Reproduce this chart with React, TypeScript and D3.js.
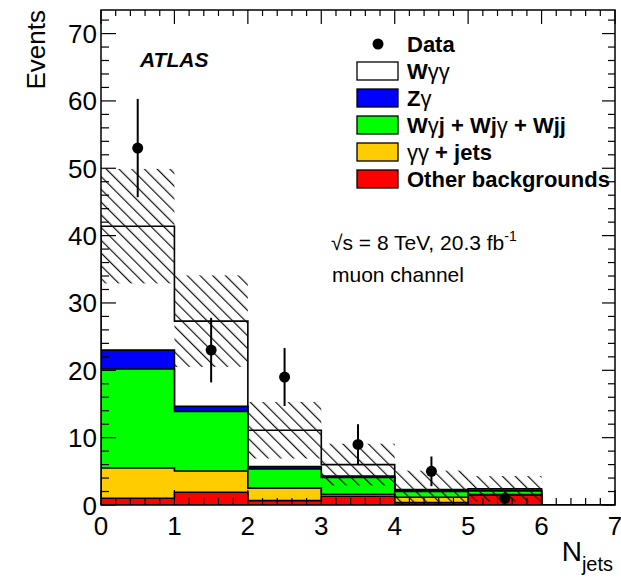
import React from 'react';
import * as d3 from 'd3';

// ---- data ----
const binLow = [0, 1, 2, 3, 4, 5, 6];
const otherBkg = [1.0, 1.9, 0.65, 1.3, 0.35, 1.5, 0];
const ggJets = [4.5, 3.15, 1.85, 0.3, 0.8, 0.05, 0];
const wJets = [14.7, 8.85, 2.85, 2.5, 0.85, 0.55, 0];
const zGamma = [2.8, 0.75, 0.35, 0.2, 0.1, 0.1, 0];
const wGG = [18.4, 12.65, 5.4, 1.7, 0.2, 0.2, 0];
const sysErr = [8.5, 6.8, 4.2, 3.1, 2.8, 1.9, 0];
const dataX = [0.5, 1.5, 2.5, 3.5, 4.5, 5.5];
const dataY = [53, 23, 19, 9, 5, 1];
const dataErr = [7.3, 4.8, 4.3, 3.0, 2.2, 1.0];
const xTickLabels = ['0', '1', '2', '3', '4', '5', '6', '7'];
const yTickLabels = ['0', '10', '20', '30', '40', '50', '60', '70'];

const FONT = "'Liberation Sans', Arial, Helvetica, sans-serif";

const W = 621, H = 578;
const X0 = 101, X1 = 615, Y0 = 505, Y1 = 10;

export default function App() {
  const x = d3.scaleLinear().domain([0, 7]).range([X0, X1]);
  const y = d3.scaleLinear().domain([0, 73.5]).range([Y0, Y1]);

  const layers = [otherBkg, ggJets, wJets, zGamma, wGG];
  const colors = ['#ff0000', '#ffcc00', '#00ff00', '#0000ff', '#ffffff'];
  const cum: number[][] = [];
  layers.forEach((l, k) => {
    cum.push(l.map((v, i) => v + (k > 0 ? cum[k - 1][i] : 0)));
  });
  const total = cum[cum.length - 1];

  const area = d3
    .area<[number, number]>()
    .x((d) => x(d[0]))
    .y0(y(0))
    .y1((d) => y(d[1]))
    .curve(d3.curveStepAfter);

  const pts = (c: number[]): [number, number][] => {
    const p: [number, number][] = binLow.map((b, i) => [b, c[i]]);
    p.push([7, c[c.length - 1]]);
    return p;
  };

  const minorX = d3.range(0, 7.0001, 0.2);
  const minorY = d3.range(0, 73.5, 2);

  const legend = [
    { label: [['W', true], ['γγ', false]], color: '#ffffff' },
    { label: [['Z', true], ['γ', false]], color: '#0000ff' },
    { label: [['W', true], ['γ', false], ['j + Wj', true], ['γ', false], [' + Wjj', true]], color: '#00ff00' },
    { label: [['γγ', false], [' + jets', true]], color: '#ffcc00' },
    { label: [['Other backgrounds', true]], color: '#ff0000' },
  ];

  return (
    <svg width={W} height={H} style={{ position: 'absolute', left: 0, top: 0, background: '#fff' }} fontFamily={FONT}>
      <defs>
        <pattern id="hatch" patternUnits="userSpaceOnUse" width={9} height={9} patternTransform="rotate(-45)">
          <line x1={0.6} y1={0} x2={0.6} y2={9} stroke="#111" strokeWidth={1.2} />
        </pattern>
        <clipPath id="frame">
          <rect x={X0} y={Y1} width={X1 - X0} height={Y0 - Y1} />
        </clipPath>
      </defs>
      <rect x={0} y={0} width={W} height={H} fill="#fff" />

      {/* stack: draw from the top layer down */}
      <g clipPath="url(#frame)">
        {cum
          .map((c, k) => ({ c, k }))
          .reverse()
          .map(({ c, k }) => (
            <path key={k} d={area(pts(c)) || ''} fill={colors[k]} stroke="#000" strokeWidth={1.6} />
          ))}
        {/* systematic band */}
        {binLow.map((b, i) =>
          sysErr[i] > 0 ? (
            <rect
              key={'h' + i}
              x={x(b)}
              width={x(b + 1) - x(b)}
              y={y(total[i] + sysErr[i])}
              height={y(Math.max(0, total[i] - sysErr[i])) - y(total[i] + sysErr[i])}
              fill="url(#hatch)"
            />
          ) : null
        )}
      </g>

      {/* data */}
      {dataX.map((dx, i) => (
        <g key={'d' + i}>
          <line x1={x(dx)} x2={x(dx)} y1={y(dataY[i] + dataErr[i])} y2={y(Math.max(0, dataY[i] - dataErr[i]))} stroke="#000" strokeWidth={2} />
          <circle cx={x(dx)} cy={y(dataY[i])} r={5.5} fill="#000" />
        </g>
      ))}

      {/* frame */}
      <rect x={X0} y={Y1} width={X1 - X0} height={Y0 - Y1} fill="none" stroke="#000" strokeWidth={1.5} />

      {/* x ticks */}
      {minorX.map((t, i) => {
        const major = Math.abs(t - Math.round(t)) < 1e-6;
        return (
          <g key={'xt' + i} stroke="#000" strokeWidth={1.2}>
            <line x1={x(t)} x2={x(t)} y1={Y0} y2={Y0 - (major ? 15 : 7)} />
            <line x1={x(t)} x2={x(t)} y1={Y1} y2={Y1 + (major ? 14 : 6)} />
          </g>
        );
      })}
      {/* y ticks */}
      {minorY.map((t, i) => {
        const major = t % 10 === 0;
        return (
          <g key={'yt' + i} stroke="#000" strokeWidth={1.2}>
            <line x1={X0} x2={X0 + (major ? 15 : 8)} y1={y(t)} y2={y(t)} />
            <line x1={X1} x2={X1 - (major ? 13 : 7)} y1={y(t)} y2={y(t)} />
          </g>
        );
      })}

      {/* tick labels */}
      {xTickLabels.map((l, i) => (
        <text key={'xl' + i} x={x(i)} y={535} fontSize={26} textAnchor="middle" fill="#000">
          {l}
        </text>
      ))}
      {yTickLabels.map((l, i) => (
        <text key={'yl' + i} x={97} y={y(i * 10) + 9.5} fontSize={26} textAnchor="end" fill="#000">
          {l}
        </text>
      ))}

      {/* axis titles */}
      <text transform={`translate(45,10) rotate(-90)`} fontSize={26} textAnchor="end" fill="#000">
        Events
      </text>
      <text x={613} y={561} fontSize={28} textAnchor="end" fill="#000">
        N<tspan fontSize={20} dy={10}>jets</tspan>
      </text>

      {/* ATLAS label */}
      <text x={140} y={67} fontSize={21} fontWeight="bold" fontStyle="italic" fill="#000">
        ATLAS
      </text>

      {/* legend */}
      <circle cx={378} cy={44} r={5.5} fill="#000" />
      <text x={407} y={51.5} fontSize={22} fontWeight="bold" fill="#000">
        Data
      </text>
      {legend.map((e, i) => {
        const cy = 71 + i * 27;
        return (
          <g key={'lg' + i}>
            <rect x={357} y={cy - 9} width={41} height={18} fill={e.color} stroke="#000" strokeWidth={1.3} />
            <text x={407} y={cy + 7.5} fontSize={22} fill="#000">
              {e.label.map((p, j) => (
                <tspan key={j} fontWeight={p[1] ? 'bold' : 'normal'}>
                  {p[0] as string}
                </tspan>
              ))}
            </text>
          </g>
        );
      })}

      {/* annotations */}
      <text x={331} y={250} fontSize={21} fill="#000">
        √s = 8 TeV, 20.3 fb<tspan fontSize={14} dy={-9}>-1</tspan>
      </text>
      <text x={332} y={282} fontSize={21} fill="#000">
        muon channel
      </text>
    </svg>
  );
}
